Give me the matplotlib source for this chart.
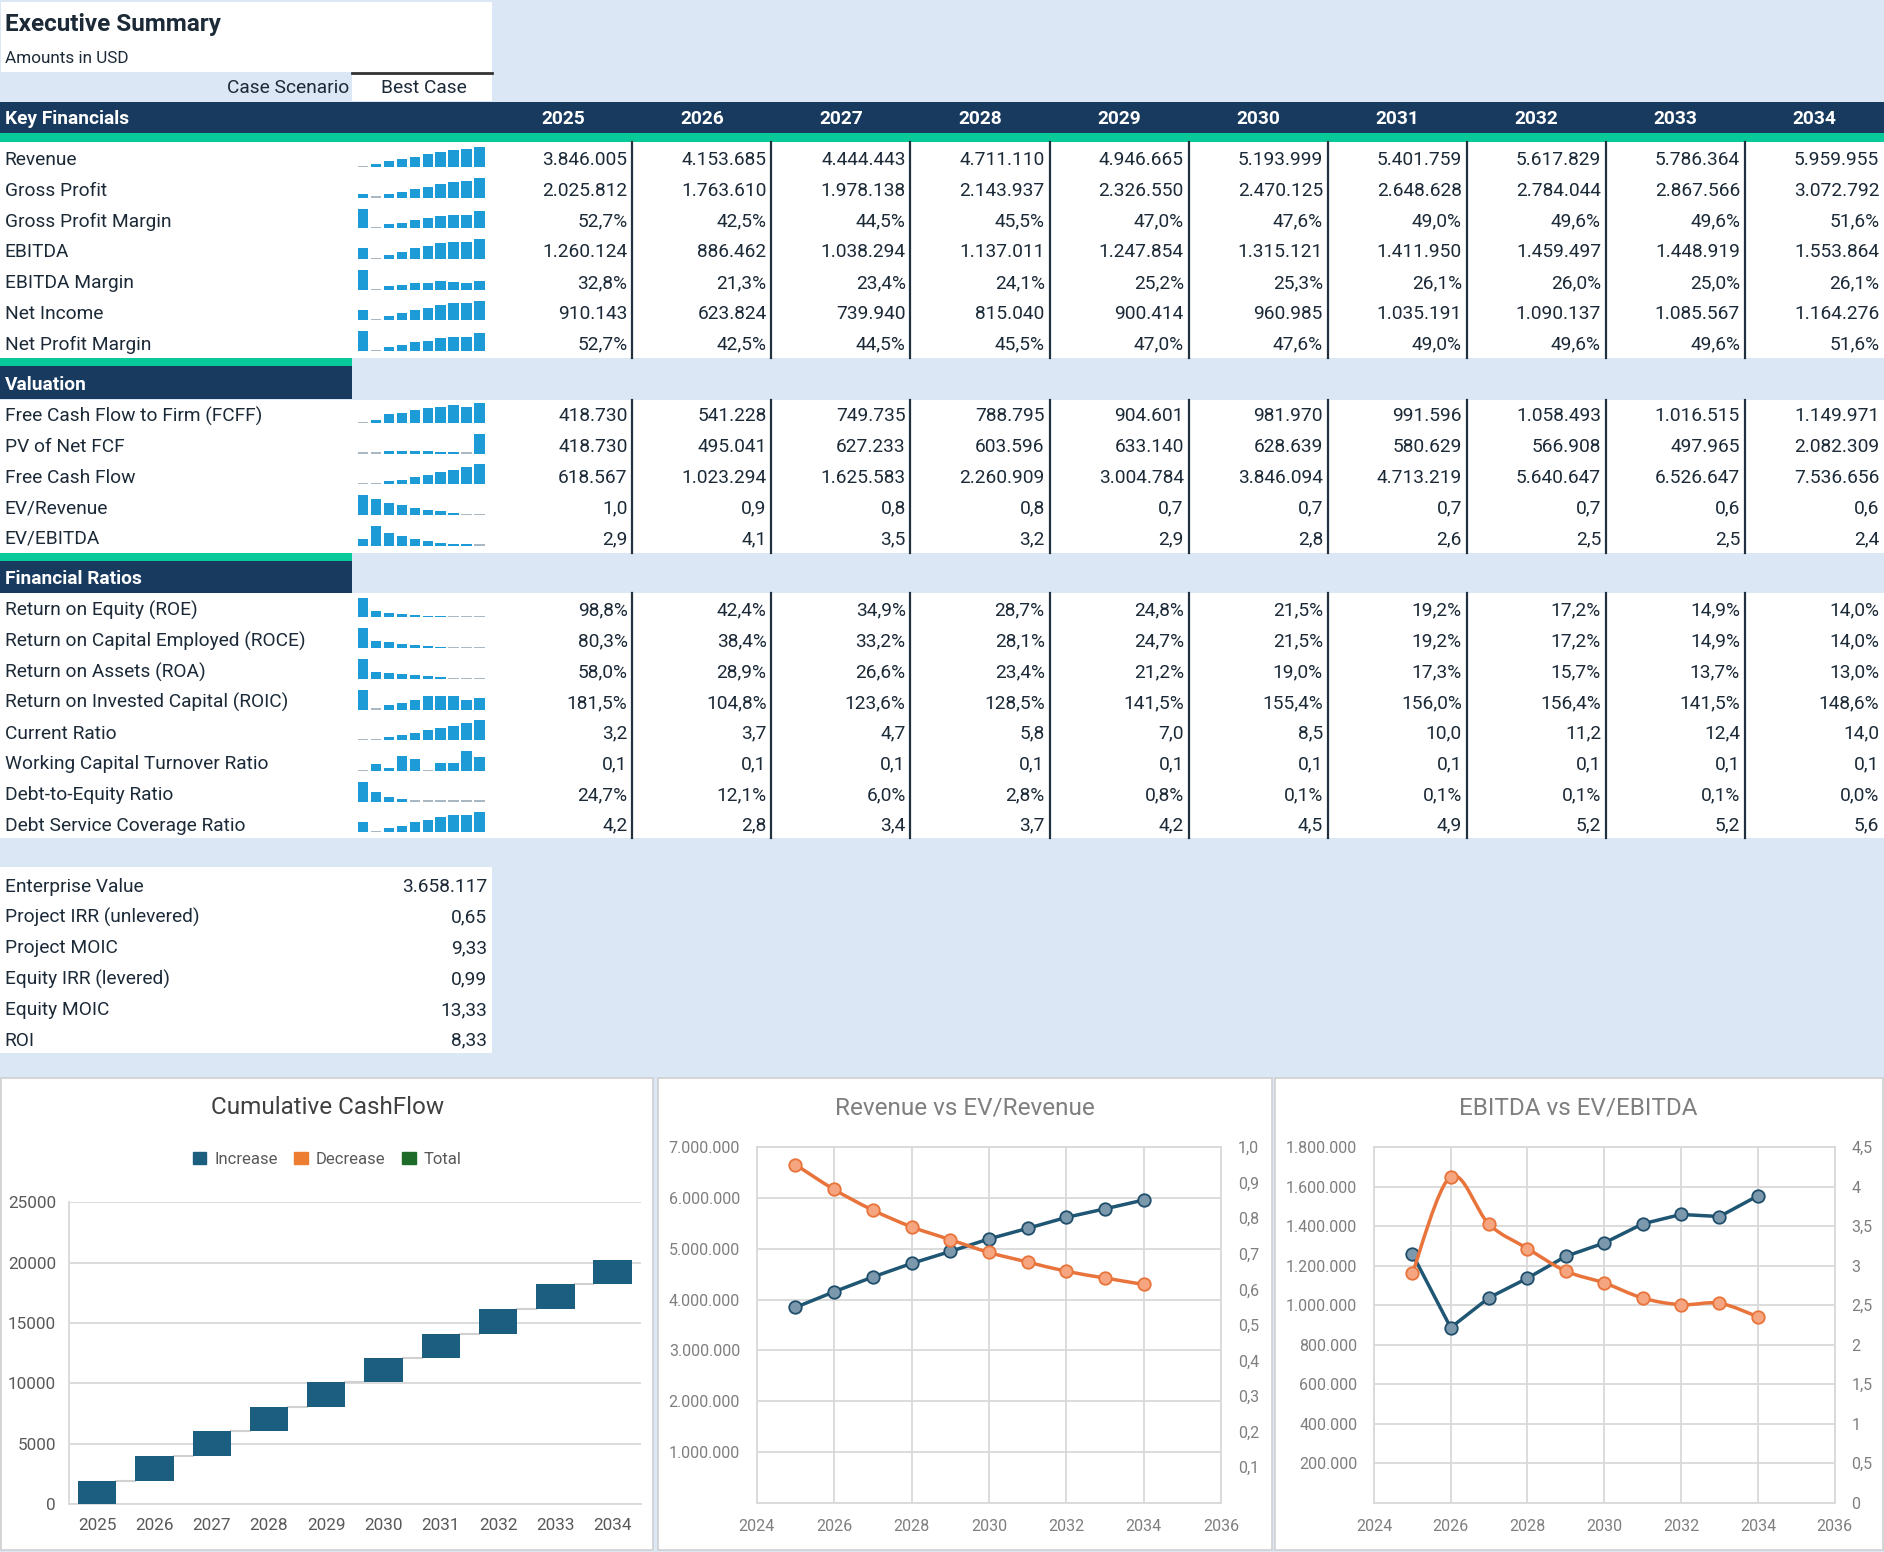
import numpy as np
import matplotlib
matplotlib.use("Agg")
import matplotlib.pyplot as plt
from matplotlib.patches import Rectangle, Patch, PathPatch
from matplotlib.path import Path
from matplotlib.ticker import FuncFormatter, MultipleLocator

plt.rcParams['font.family'] = ['Roboto', 'DejaVu Sans']

# ---------------- data ----------------
years = [2025, 2026, 2027, 2028, 2029, 2030, 2031, 2032, 2033, 2034]

revenue = [3846005, 4153685, 4444443, 4711110, 4946665, 5193999, 5401759, 5617829, 5786364, 5959955]
gross_profit = [2025812, 1763610, 1978138, 2143937, 2326550, 2470125, 2648628, 2784044, 2867566, 3072792]
gross_margin = [52.7, 42.5, 44.5, 45.5, 47.0, 47.6, 49.0, 49.6, 49.6, 51.6]
ebitda = [1260124, 886462, 1038294, 1137011, 1247854, 1315121, 1411950, 1459497, 1448919, 1553864]
ebitda_margin = [32.8, 21.3, 23.4, 24.1, 25.2, 25.3, 26.1, 26.0, 25.0, 26.1]
net_income = [910143, 623824, 739940, 815040, 900414, 960985, 1035191, 1090137, 1085567, 1164276]
net_margin = [52.7, 42.5, 44.5, 45.5, 47.0, 47.6, 49.0, 49.6, 49.6, 51.6]

fcff = [418730, 541228, 749735, 788795, 904601, 981970, 991596, 1058493, 1016515, 1149971]
pv_fcf = [418730, 495041, 627233, 603596, 633140, 628639, 580629, 566908, 497965, 2082309]
free_cf = [618567, 1023294, 1625583, 2260909, 3004784, 3846094, 4713219, 5640647, 6526647, 7536656]
ev_revenue = [0.951, 0.881, 0.823, 0.776, 0.740, 0.704, 0.677, 0.651, 0.632, 0.614]
ev_ebitda = [2.903, 4.127, 3.523, 3.217, 2.931, 2.782, 2.591, 2.506, 2.525, 2.354]

roe = [98.8, 42.4, 34.9, 28.7, 24.8, 21.5, 19.2, 17.2, 14.9, 14.0]
roce = [80.3, 38.4, 33.2, 28.1, 24.7, 21.5, 19.2, 17.2, 14.9, 14.0]
roa = [58.0, 28.9, 26.6, 23.4, 21.2, 19.0, 17.3, 15.7, 13.7, 13.0]
roic = [181.5, 104.8, 123.6, 128.5, 141.5, 155.4, 156.0, 156.4, 141.5, 148.6]
current_ratio = [3.2, 3.7, 4.7, 5.8, 7.0, 8.5, 10.0, 11.2, 12.4, 14.0]
wc_turnover = [0.080, 0.093, 0.086, 0.111, 0.104, 0.080, 0.096, 0.096, 0.120, 0.109]
debt_equity = [24.7, 12.1, 6.0, 2.8, 0.8, 0.1, 0.1, 0.1, 0.1, 0.0]
dscr = [4.2, 2.8, 3.4, 3.7, 4.2, 4.5, 4.9, 5.2, 5.2, 5.6]

summary_labels = ["Enterprise Value", "Project IRR (unlevered)", "Project MOIC",
                  "Equity IRR (levered)", "Equity MOIC", "ROI"]
summary_values = [3658117, 0.65, 9.33, 0.99, 13.33, 8.33]
summary_fmt = ["int", "dec2", "dec2", "dec2", "dec2", "dec2"]

# cumulative cashflow waterfall (increase per year)
cf_increase = [1940, 2020, 2050, 2020, 2050, 2020, 2030, 2020, 2050, 2050]

key_rows = [("Revenue", revenue, "int"), ("Gross Profit", gross_profit, "int"),
            ("Gross Profit Margin", gross_margin, "pct"), ("EBITDA", ebitda, "int"),
            ("EBITDA Margin", ebitda_margin, "pct"), ("Net Income", net_income, "int"),
            ("Net Profit Margin", net_margin, "pct")]
val_rows = [("Free Cash Flow to Firm (FCFF)", fcff, "int"), ("PV of Net FCF", pv_fcf, "int"),
            ("Free Cash Flow", free_cf, "int"), ("EV/Revenue", ev_revenue, "dec1"),
            ("EV/EBITDA", ev_ebitda, "dec1")]
ratio_rows = [("Return on Equity (ROE)", roe, "pct"),
              ("Return on Capital Employed (ROCE)", roce, "pct"),
              ("Return on Assets (ROA)", roa, "pct"),
              ("Return on Invested Capital (ROIC)", roic, "pct"),
              ("Current Ratio", current_ratio, "dec1"),
              ("Working Capital Turnover Ratio", wc_turnover, "dec1"),
              ("Debt-to-Equity Ratio", debt_equity, "pct"),
              ("Debt Service Coverage Ratio", dscr, "dec1")]

# ---------------- style ----------------
LIGHT = '#DBE7F5'
NAVY = '#183A5E'
GREEN = '#08C99A'
TXT = '#1C2A38'
SPARK = '#1C9BD6'
SPARK_MIN = '#A9B8C3'
GRID = '#D9D9D9'
FS = 13.8
DY = 1.5  # small nudge so text sits like the sheet's cells

W, H = 1566.0, 1292.0


def rect(x0, y0, x1, y1):
    return [x0 / W, 1 - y1 / H, (x1 - x0) / W, (y1 - y0) / H]


def fmt(v, kind):
    if kind == "int":
        return f"{v:,.0f}".replace(",", ".")
    if kind == "pct":
        return f"{v:.1f}".replace(".", ",") + "%"
    if kind == "dec1":
        return f"{v:.1f}".replace(".", ",")
    return f"{v:.2f}".replace(".", ",")


def general(v):
    s = f"{v:.1f}".rstrip("0").rstrip(".")
    return s.replace(".", ",")


def smooth_path(x, y):
    # bezier through the points, like the smoothed line option in the spreadsheet
    pts = np.column_stack([x, y]).astype(float)
    n = len(pts)
    verts = [pts[0]]
    codes = [Path.MOVETO]
    for i in range(n - 1):
        p0 = pts[i - 1] if i > 0 else pts[i]
        p1, p2 = pts[i], pts[i + 1]
        p3 = pts[i + 2] if i + 2 < n else pts[i + 1]
        verts += [p1 + (p2 - p0) / 6, p2 - (p3 - p1) / 6, p2]
        codes += [Path.CURVE4] * 3
    return Path(verts, codes)


fig = plt.figure(figsize=(18.84, 15.52), dpi=100, facecolor=LIGHT)
bg = fig.add_axes([0, 0, 1, 1])
bg.set_xlim(0, W)
bg.set_ylim(H, 0)
bg.axis('off')


def box(x0, y0, x1, y1, color, **kw):
    bg.add_patch(Rectangle((x0, y0), x1 - x0, y1 - y0, facecolor=color, edgecolor=kw.get('ec', 'none'),
                           lw=kw.get('lw', 0)))


def cell(x, y, s, **kw):
    kw.setdefault('fontsize', FS)
    kw.setdefault('color', TXT)
    bg.text(x, y + DY, s, va='center', **kw)


# title block
box(1, 2, 409, 60, 'white')
cell(4, 18.5, "Executive Summary", fontsize=17.5, fontweight='bold')
cell(4, 47, "Amounts in USD", fontsize=12.3)
box(293, 60, 409, 84, 'white')
bg.plot([293, 409], [60.5, 60.5], color='#333333', lw=2)
cell(290, 72, "Case Scenario", ha='right')
cell(352, 72, "Best Case", ha='center')

COL0, COLW = 410, 115.6
ROWH = 25.55

# Key financials header
box(0, 85, W, 111, NAVY)
box(0, 111, W, 118, GREEN)
cell(4, 97.5, "Key Financials", fontweight='bold', color='white')
for j, yr in enumerate(years):
    cell(COL0 + COLW * (j + 0.5), 97.5, str(yr), fontweight='bold', color='white', ha='center')

box(0, 118, W, 298, 'white')
box(0, 298, 293, 305, GREEN)
box(0, 305, 293, 332, NAVY)
cell(4, 319, "Valuation", fontweight='bold', color='white')
box(0, 333, W, 460, 'white')
box(0, 460, 293, 467, GREEN)
box(0, 467, 293, 494, NAVY)
cell(4, 480.5, "Financial Ratios", fontweight='bold', color='white')
box(0, 494, W, 698, 'white')

sections = [(key_rows, 132, 118, 298), (val_rows, 345, 333, 460), (ratio_rows, 507, 494, 698)]
for rows, y0, top, bottom in sections:
    for k in range(1, 10):
        xs = COL0 + COLW * k
        bg.plot([xs, xs], [top, bottom], color='#22313F', lw=1.6)
    for i, (label, vals, kind) in enumerate(rows):
        y = y0 + ROWH * i
        cell(4, y, label)
        for j, v in enumerate(vals):
            cell(COL0 + COLW * (j + 1) - 4, y, fmt(v, kind), ha='right')
        # sparkline
        sp = fig.add_axes(rect(296, y - 9.5, 404, y + 7))
        arr = np.array(vals, dtype=float)
        rng = arr.max() - arr.min()
        frac = (arr - arr.min()) / rng
        hts = np.maximum(frac, 0.06)
        cols = [SPARK if f > 0.06 else SPARK_MIN for f in frac]
        sp.bar(range(len(arr)), hts, width=0.78, color=cols)
        sp.set_xlim(-0.5, len(arr) - 0.5)
        sp.set_ylim(0, 1)
        sp.axis('off')

# summary box
box(0, 722, 409, 877, 'white')
for i, (lab, v, kind) in enumerate(zip(summary_labels, summary_values, summary_fmt)):
    y = 737 + ROWH * i
    cell(4, y, lab)
    cell(405, y, fmt(v, kind), ha='right')

# chart panels
for x0, x1 in [(1, 543), (547, 1057), (1060, 1565)]:
    box(x0, 897, x1, 1290, 'white', ec='#D0D0D0', lw=1.2)

# ---------- waterfall ----------
wf = fig.add_axes(rect(57, 1001, 533, 1252))
idx = np.arange(len(years))
inc = np.array(cf_increase, dtype=float)
base = np.concatenate([[0], np.cumsum(inc)[:-1]])
tops = base + inc
bw = 0.67
wf.bar(idx, inc, bottom=base, width=bw, color='#1B5E80', zorder=3)
for i in range(len(idx) - 1):
    wf.plot([idx[i] + bw / 2, idx[i + 1] - bw / 2], [tops[i], tops[i]], color='#D0D0D0', lw=1.5, zorder=2)
wf.set_xlim(-0.5, len(years) - 0.5)
wf.set_ylim(0, 25000)
wf.yaxis.set_major_locator(MultipleLocator(5000))
wf.set_xticks(idx)
wf.set_xticklabels([str(y) for y in years])
wf.grid(axis='y', color=GRID, lw=1.3, zorder=0)
wf.set_axisbelow(True)
for s in ['top', 'right']:
    wf.spines[s].set_visible(False)
for s in ['left', 'bottom']:
    wf.spines[s].set_color(GRID)
    wf.spines[s].set_linewidth(1.3)
wf.tick_params(length=0, labelsize=12.3, labelcolor='#595959', pad=10)
wf.tick_params(axis='y', pad=9)
bg.text(272, 922, "Cumulative CashFlow", fontsize=17.5, color='#404040', ha='center', va='center')
handles = [Patch(color='#1B5E80', label='Increase'), Patch(color='#ED7D31', label='Decrease'),
           Patch(color='#1E6B2A', label='Total')]
fig.legend(handles=handles, loc='center', bbox_to_anchor=(272 / W, 1 - 965 / H), ncol=3, frameon=False,
           fontsize=12, handlelength=0.8, handleheight=0.8, handletextpad=0.5, columnspacing=1.0,
           labelcolor='#595959')


# ---------- dual line charts ----------
def dual_chart(box_px, title, tx, left_vals, right_vals, lmax, lstep, rmax, rstep, rfmt):
    ax = fig.add_axes(rect(*box_px))
    ax.set_xlim(2024, 2036)
    ax.set_xticks(range(2024, 2037, 2))
    ax.set_ylim(0, lmax)
    ax.yaxis.set_major_locator(MultipleLocator(lstep))
    ax.yaxis.set_major_formatter(FuncFormatter(lambda v, p: "" if v == 0 else fmt(v, "int")))
    ax.grid(True, color=GRID, lw=1.3)
    ax.set_axisbelow(True)
    for s in ax.spines.values():
        s.set_color(GRID)
        s.set_linewidth(1.3)
    ax.tick_params(length=0, labelsize=11.5, labelcolor='#7F7F7F', pad=12)
    ax.plot(years, left_vals, '-o', color='#1F5673', lw=2.5, ms=9, mfc='#7C98AD', mec='#1F4E6B',
            mew=1.3, zorder=3)
    ax2 = ax.twinx()
    ax2.set_ylim(0, rmax)
    ax2.yaxis.set_major_locator(MultipleLocator(rstep))
    ax2.yaxis.set_major_formatter(FuncFormatter(rfmt))
    for s in ax2.spines.values():
        s.set_visible(False)
    ax2.tick_params(length=0, labelsize=11.5, labelcolor='#7F7F7F', pad=12)
    ax2.add_patch(PathPatch(smooth_path(years, right_vals), facecolor='none', edgecolor='#E8743B',
                            lw=2.5, zorder=3))
    ax2.plot(years, right_vals, 'o', ms=9, mfc='#F5A57F', mec='#E8743B', mew=1.3, zorder=4)
    bg.text(tx, 922, title, fontsize=17.5, color='#7F7F7F', ha='center', va='center')
    return ax, ax2


dual_chart((629, 955, 1015, 1251), "Revenue vs EV/Revenue", 802, revenue, ev_revenue,
           7000000, 1000000, 1.0, 0.1,
           lambda v, p: "" if abs(v) < 1e-9 else f"{v:.1f}".replace(".", ","))
dual_chart((1142, 955, 1525, 1251), "EBITDA vs EV/EBITDA", 1312, ebitda, ev_ebitda,
           1800000, 200000, 4.5, 0.5, lambda v, p: general(v))

fig.savefig("out.png", dpi=100, facecolor=LIGHT)
